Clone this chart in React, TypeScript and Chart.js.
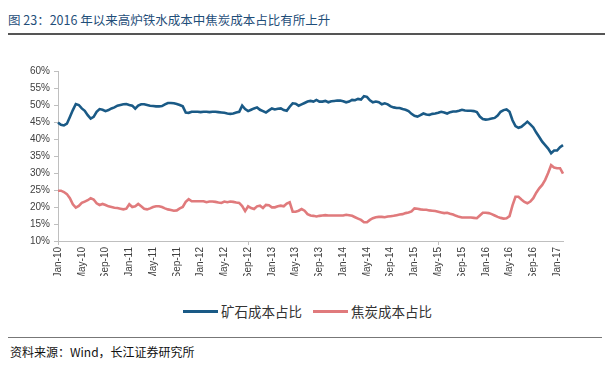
import React, { useEffect, useRef } from "react";
import { Chart, registerables } from "chart.js";

Chart.register(...registerables);

// Semi-monthly observation dates, Jan 2010 .. Feb 2017
const categories: string[] = [];
for (let m = 0; m <= 85; m++) {
  const y = 2010 + Math.floor(m / 12);
  const mo = String((m % 12) + 1).padStart(2, "0");
  categories.push(`${y}-${mo}-01`);
  if (m < 85) categories.push(`${y}-${mo}-15`);
}

const tickLabels = [
  "Jan-10", "May-10", "Sep-10", "Jan-11", "May-11", "Sep-11", "Jan-12", "May-12",
  "Sep-12", "Jan-13", "May-13", "Sep-13", "Jan-14", "May-14", "Sep-14", "Jan-15",
  "May-15", "Sep-15", "Jan-16", "May-16", "Sep-16", "Jan-17",
];

const yTicks = [10, 15, 20, 25, 30, 35, 40, 45, 50, 55, 60];

const oreShare = [
  44.8, 44.2, 44.0, 44.5, 46.5, 48.5, 50.3, 50.0, 49.0, 48.3,
  47.0, 46.0, 46.5, 48.0, 48.8, 48.6, 48.2, 48.5, 49.0, 49.3,
  49.8, 50.0, 50.2, 50.3, 50.0, 49.8, 48.9, 49.8, 50.2, 50.2,
  50.0, 49.8, 49.7, 49.6, 49.6, 49.7, 50.2, 50.6, 50.6, 50.5,
  50.3, 50.0, 49.6, 47.8, 47.7, 48.0, 48.0, 48.0, 47.9, 48.0,
  48.0, 47.9, 48.0, 48.0, 47.9, 47.8, 47.7, 47.5, 47.4, 47.5,
  47.8, 48.0, 49.8, 48.8, 48.2, 48.6, 49.0, 49.3, 48.6, 48.2,
  47.8, 48.4, 49.0, 48.7, 48.9, 49.0, 48.5, 48.3, 49.5, 50.5,
  50.4, 49.8, 50.2, 50.6, 51.0, 51.2, 51.0, 51.5, 51.0, 51.0,
  51.2, 50.8, 51.1, 51.2, 51.3, 51.3, 51.1, 50.8, 51.0, 51.5,
  51.4, 51.8, 51.6, 52.6, 52.4, 51.4, 50.8, 51.0, 50.8, 50.2,
  50.5, 50.2, 49.6, 49.3, 49.1, 49.1, 48.8, 48.6, 48.2, 47.4,
  46.8, 46.6, 47.0, 47.5, 47.2, 47.1, 47.4, 47.5, 47.7, 48.0,
  47.8, 47.5, 47.9, 48.1, 48.1, 48.3, 48.6, 48.4, 48.3, 48.3,
  48.2, 47.9, 46.6, 45.9, 45.7, 45.8, 46.0, 46.2, 46.9, 48.0,
  48.5, 48.7, 48.0, 45.5, 43.8, 43.3, 43.6, 44.3, 45.1, 44.3,
  43.4, 41.9, 40.6, 39.2, 38.2, 37.2, 35.8, 36.6, 36.6, 37.6,
  38.2,
];

const cokeShare = [
  24.8, 24.8, 24.4, 23.8, 22.6, 20.8, 19.8, 20.3, 21.2, 21.6,
  22.0, 22.6, 22.2, 21.1, 20.6, 20.9, 20.6, 20.2, 20.0, 19.8,
  19.7, 19.5, 19.3, 19.5, 20.8, 20.0, 20.2, 20.9, 20.2, 19.5,
  19.3, 19.6, 20.0, 20.2, 20.2, 20.0, 19.6, 19.3, 19.1, 18.9,
  19.0, 19.6, 20.0, 21.5, 22.3, 21.7, 21.7, 21.7, 21.7, 21.7,
  21.4, 21.6, 21.6, 21.5, 21.3, 21.2, 21.6, 21.4, 21.6, 21.5,
  21.3, 21.2, 20.3, 18.8, 20.2, 19.7, 19.4, 20.2, 20.4, 19.7,
  20.6, 20.5, 19.9, 19.9, 20.2, 20.4, 20.2, 21.0, 21.4, 18.6,
  18.6, 18.9, 19.4, 18.9, 17.9, 17.5, 17.4, 17.2, 17.4, 17.5,
  17.6, 17.5, 17.5, 17.5, 17.5, 17.5, 17.5, 17.7, 17.6, 17.4,
  17.0, 16.6, 16.2, 15.5, 15.5, 16.2, 16.7, 17.0, 17.1, 17.1,
  17.0, 17.2, 17.3, 17.4, 17.6, 17.8, 17.9, 18.2, 18.4, 18.7,
  19.6, 19.5, 19.3, 19.2, 19.2, 19.0, 18.9, 18.8, 18.6, 18.4,
  18.2, 18.3, 18.0, 17.8, 17.4, 17.1, 16.9, 16.9, 16.9, 16.9,
  16.8, 16.7, 17.5, 18.3, 18.3, 18.2, 17.9, 17.5, 17.1, 16.8,
  16.6, 16.7, 17.3, 20.5, 23.0, 23.0, 22.2, 21.5, 21.1, 21.6,
  22.6, 24.2, 25.5, 26.5, 28.0, 30.0, 32.3, 31.6, 31.4, 31.4,
  29.8,
];

const seriesNames = ["矿石成本占比", "焦炭成本占比"];
const seriesColors = ["#1a5a86", "#e07a7c"];

const latin = "'Liberation Sans', Arial, 'Noto Sans CJK SC', sans-serif";
const cjk = "'Noto Sans CJK SC', 'Liberation Sans', sans-serif";

export default function App() {
  const ref = useRef<HTMLCanvasElement>(null);

  useEffect(() => {
    document.body.style.margin = "0";
    const axisGray = "#bfbfbf";
    const chart = new Chart(ref.current as HTMLCanvasElement, {
      type: "line",
      data: {
        labels: categories,
        datasets: [
          {
            label: seriesNames[0],
            data: oreShare,
            borderColor: seriesColors[0],
            backgroundColor: seriesColors[0],
            borderWidth: 2.6,
            pointRadius: 0,
            tension: 0,
          },
          {
            label: seriesNames[1],
            data: cokeShare,
            borderColor: seriesColors[1],
            backgroundColor: seriesColors[1],
            borderWidth: 2.6,
            pointRadius: 0,
            tension: 0,
          },
        ],
      },
      options: {
        animation: false,
        responsive: false,
        maintainAspectRatio: false,
        layout: { padding: { top: 31, right: 49, left: 0, bottom: 0 } },
        plugins: { legend: { display: false }, tooltip: { enabled: false } },
        scales: {
          x: {
            type: "category",
            offset: false,
            border: { color: axisGray, width: 1 },
            grid: {
              drawOnChartArea: false,
              tickLength: 4,
              color: (ctx: any) => (ctx.index % 8 === 0 ? axisGray : "rgba(0,0,0,0)"),
              tickColor: (ctx: any) => (ctx.index % 8 === 0 ? axisGray : "rgba(0,0,0,0)"),
            },
            ticks: {
              autoSkip: false,
              maxRotation: 90,
              minRotation: 90,
              padding: 2,
              color: "#404040",
              font: { size: 10, family: latin },
              callback: (_v: any, i: number) => (i % 8 === 0 ? tickLabels[i / 8] : null),
            },
            afterFit: (s: any) => {
              s.height = 35;
            },
          },
          y: {
            min: yTicks[0],
            max: yTicks[yTicks.length - 1],
            border: { color: axisGray, width: 1 },
            grid: { drawOnChartArea: false, tickLength: 4, color: axisGray },
            ticks: {
              stepSize: 5,
              padding: 4,
              color: "#404040",
              font: { size: 10, family: latin },
              callback: (v: any) => `${v}%`,
            },
            afterFit: (s: any) => {
              s.width = 58;
            },
          },
        },
      },
    });
    return () => chart.destroy();
  }, []);

  return (
    <div style={{ position: "relative", width: 612, height: 366, background: "#fff", overflow: "hidden" }}>
      <div
        style={{
          position: "absolute",
          left: 8,
          top: 12,
          fontFamily: cjk,
          fontSize: 12.5,
          lineHeight: "16px",
          color: "#1f4e79",
          whiteSpace: "nowrap",
        }}
      >
        图 23：2016 年以来高炉铁水成本中焦炭成本占比有所上升
      </div>
      <div style={{ position: "absolute", left: 8, top: 33, width: 597, height: 2, background: "#555" }} />
      <canvas
        ref={ref}
        width={612}
        height={236}
        style={{ position: "absolute", left: 0, top: 40, width: 612, height: 236 }}
      />
      <div
        style={{
          position: "absolute",
          left: 0,
          top: 302,
          width: 612,
          height: 18,
          fontFamily: cjk,
          fontSize: 13.5,
          lineHeight: "18px",
          color: "#333",
        }}
      >
        <div style={{ position: "absolute", left: 183, top: 8, width: 35, height: 3, background: seriesColors[0] }} />
        <div style={{ position: "absolute", left: 221, top: 0, whiteSpace: "nowrap" }}>{seriesNames[0]}</div>
        <div style={{ position: "absolute", left: 313, top: 8, width: 35, height: 3, background: seriesColors[1] }} />
        <div style={{ position: "absolute", left: 351, top: 0, whiteSpace: "nowrap" }}>{seriesNames[1]}</div>
      </div>
      <div style={{ position: "absolute", left: 8, top: 337, width: 594, height: 1, background: "#777" }} />
      <div
        style={{
          position: "absolute",
          left: 10,
          top: 344,
          fontFamily: cjk,
          fontSize: 12,
          lineHeight: "16px",
          color: "#111",
          whiteSpace: "nowrap",
        }}
      >
        资料来源：Wind，长江证券研究所
      </div>
    </div>
  );
}
